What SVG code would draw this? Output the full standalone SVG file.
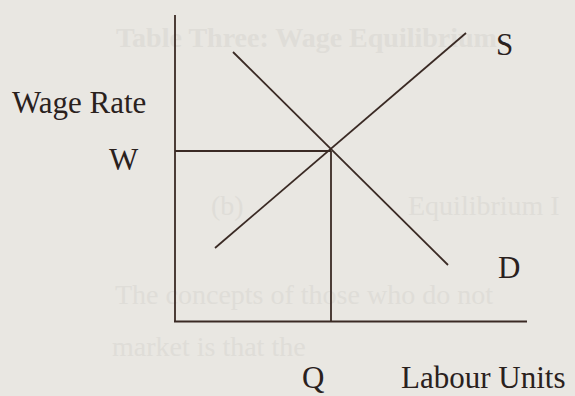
<svg xmlns="http://www.w3.org/2000/svg" width="575" height="396" viewBox="0 0 575 396">
<style>
.ln{stroke:#3a2a24;stroke-width:1.8;fill:none;stroke-linecap:butt}
.lb{font-family:"Liberation Serif","Times New Roman",serif;font-size:31px;fill:#2a211d}
.bg{font-family:"Liberation Serif","Times New Roman",serif;font-size:28px;fill:#dfddd8}
</style>
<rect width="575" height="396" fill="#e9e7e2"/>
<g id="bleed">
<text class="bg" x="116" y="47" font-weight="bold" font-size="27">Table Three: Wage Equilibrium</text>
<text class="bg" x="211" y="215">(b)</text>
<text class="bg" x="408" y="215">Equilibrium I</text>
<text class="bg" x="115" y="304">The concepts of those who do not</text>
<text class="bg" x="112" y="356">market is that the</text>
</g>
<g id="connectors">
<line class="ln" x1="175" y1="15" x2="175" y2="322"/>
<line class="ln" x1="174" y1="321.5" x2="527" y2="321.5"/>
<line class="ln" x1="175" y1="151" x2="331" y2="151"/>
<line class="ln" x1="331" y1="151" x2="331" y2="322"/>
<line class="ln" x1="215" y1="248" x2="466" y2="33"/>
<line class="ln" x1="233" y1="52" x2="448" y2="265"/>
</g>
<g id="label-wage-rate"><text class="lb" x="12" y="113">Wage Rate</text></g>
<g id="label-w"><text class="lb" x="109" y="170">W</text></g>
<g id="label-s"><text class="lb" x="496" y="55">S</text></g>
<g id="label-d"><text class="lb" x="498" y="278">D</text></g>
<g id="label-q"><text class="lb" x="302" y="388">Q</text></g>
<g id="label-labour"><text class="lb" x="401" y="388">Labour Units</text></g>
</svg>
